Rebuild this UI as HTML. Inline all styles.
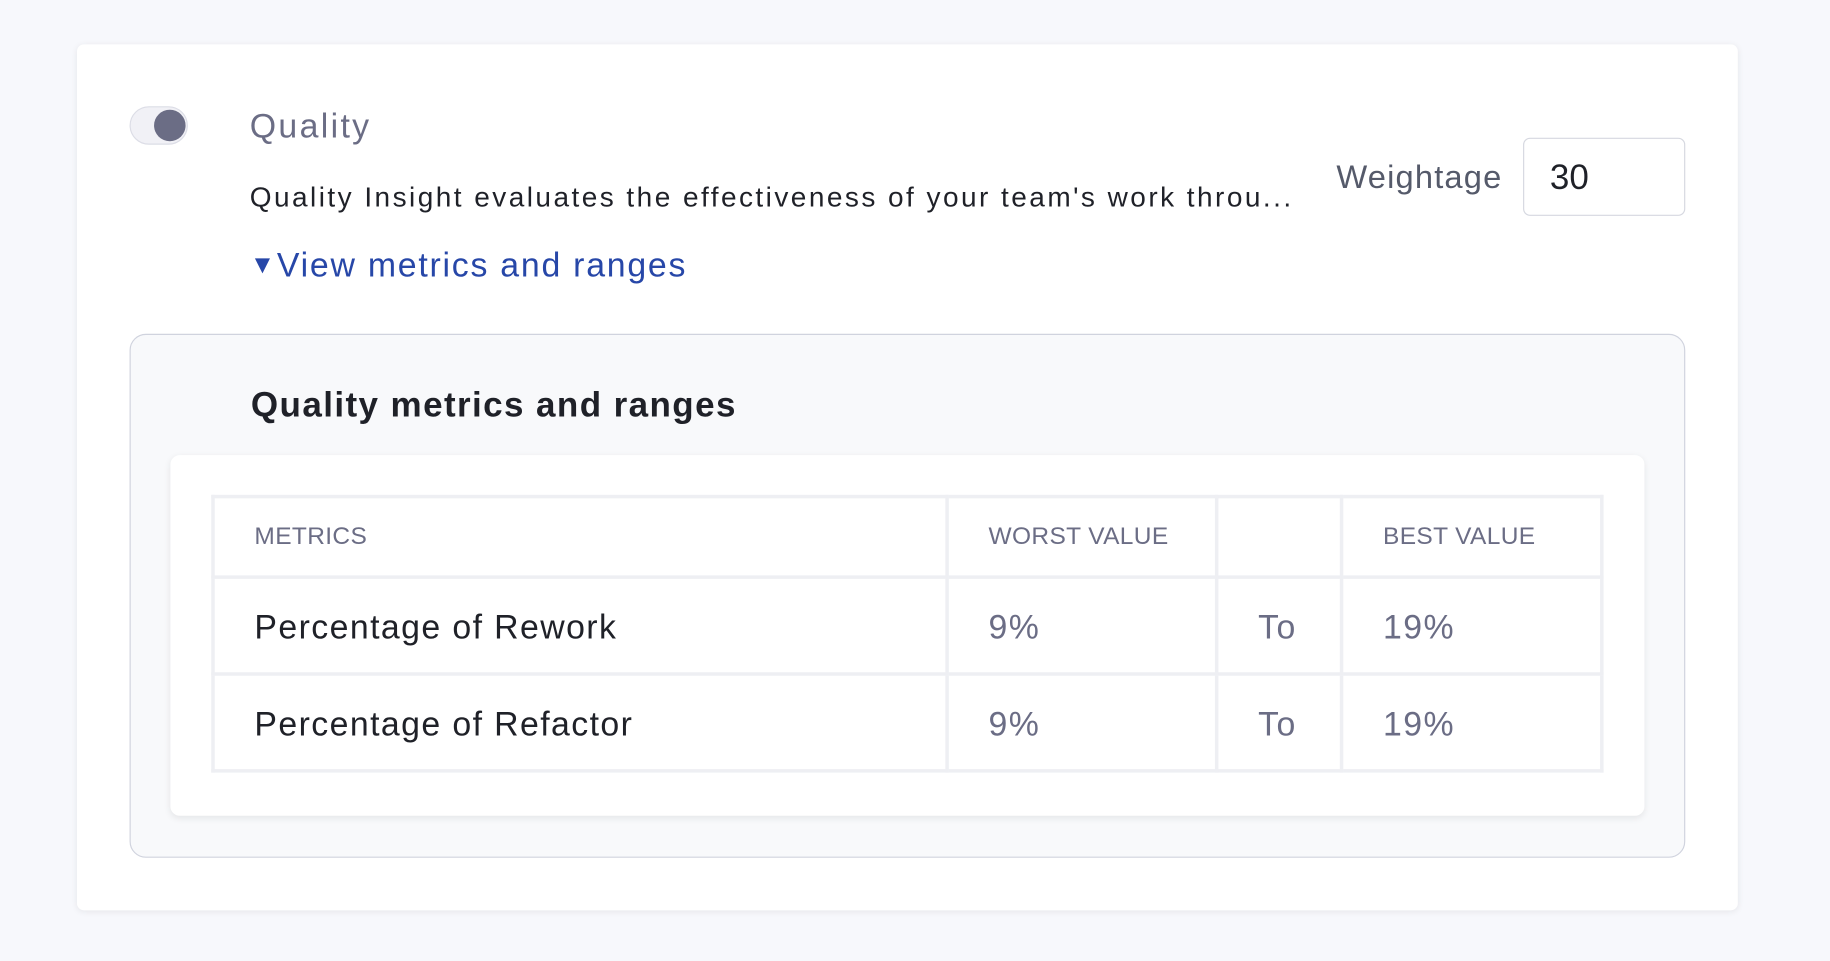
<!DOCTYPE html>
<html><head><style>
body{margin:0;width:1830px;height:960px;overflow:hidden;background:#f7f8fc;font-family:"Liberation Sans",sans-serif}
#w{position:absolute;left:0;top:0;width:1568px;height:823px;transform:scale(1.16709);transform-origin:0 0}
.a{position:absolute;white-space:nowrap}
.card{left:66px;top:38px;width:1423px;height:742px;background:#fff;border-radius:6px;box-shadow:0 1px 6px rgba(0,0,0,.08)}
table{position:absolute;left:181px;top:424px;border-collapse:collapse;width:1193px;table-layout:fixed}
td{border:3px solid #eeeff3;padding:0 0 0 34px;color:#6b6d85;font-size:29px;letter-spacing:1.2px}
tr.h td{height:66px;font-size:21px;letter-spacing:0.3px}
tr.r td{height:76px;padding-top:4px}
td.m{color:#1f2128}
</style></head><body><div id="w">
<div class="a card"></div>
<div class="a" style="left:111px;top:91px;width:48px;height:31px;border:1.5px solid #dcdde6;background:#f1f1f6;border-radius:17px"></div>
<div class="a" style="left:132px;top:94px;width:27px;height:27px;border-radius:50%;background:#6b6d85"></div>
<div class="a" style="left:214px;top:93px;font-size:29px;color:#6b6d85;letter-spacing:2px">Quality</div>
<div class="a" style="left:214px;top:156px;font-size:24px;color:#1f2128;letter-spacing:2.1px">Quality Insight evaluates the effectiveness of your team's work throu...</div>
<div class="a" style="left:214px;top:212px;font-size:29px;color:#2747a8;letter-spacing:1.5px"><span style="font-size:22px;position:relative;top:-3px">▼</span>View metrics and ranges</div>
<div class="a" style="left:1145px;top:136px;font-size:28px;color:#555a6a;letter-spacing:1px">Weightage</div>
<div class="a" style="left:1305px;top:118px;width:139px;height:67px;border:1.5px solid #d6d8e0;border-radius:6px;box-sizing:border-box;font-size:30px;color:#1f2128;padding:17px 0 0 22px">30</div>
<div class="a" style="left:111px;top:286px;width:1331px;height:447px;background:#f8f9fb;border:1.5px solid #d0d3de;border-radius:14px"></div>
<div class="a" style="left:215px;top:331px;font-size:30px;font-weight:bold;color:#1f2128;letter-spacing:1.2px">Quality metrics and ranges</div>
<div class="a" style="left:146px;top:390px;width:1263px;height:309px;background:#fff;border-radius:8px;box-shadow:0 2px 6px rgba(0,0,0,.08)"></div>
<table>
<colgroup><col style="width:629px"><col style="width:231px"><col style="width:107px"><col></colgroup>
<tr class="h"><td>METRICS</td><td>WORST VALUE</td><td></td><td>BEST VALUE</td></tr>
<tr class="r"><td class="m">Percentage of Rework</td><td>9%</td><td>To</td><td>19%</td></tr>
<tr class="r"><td class="m">Percentage of Refactor</td><td>9%</td><td>To</td><td>19%</td></tr>
</table>
</div></body></html>
